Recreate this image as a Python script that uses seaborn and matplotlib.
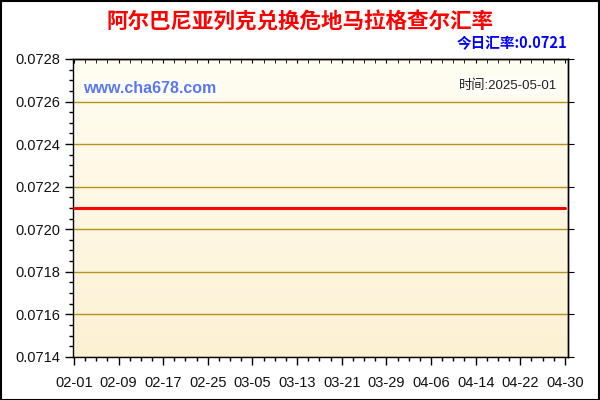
import numpy as np
import pandas as pd
import seaborn as sns
import matplotlib.pyplot as plt
import matplotlib.dates as mdates
from matplotlib.patches import Rectangle
from matplotlib.ticker import MultipleLocator

# data
dates = pd.date_range("2025-02-01", "2025-04-30", freq="D")
rates = [0.0721] * len(dates)
tick_dates = pd.date_range("2025-02-01", "2025-04-30", freq="8D")
title = "阿尔巴尼亚列克兑换危地马拉格查尔汇率"
today_rate = "今日汇率:0.0721"
stamp = "时间:2025-05-01"

df = pd.DataFrame({"date": dates, "rate": rates})

sns.set_style("white")
plt.rcParams['font.family'] = ['Liberation Sans', 'Noto Sans CJK SC', 'DejaVu Sans']

fig = plt.figure(figsize=(6, 4), dpi=100)
ax = fig.add_axes([0.121, 0.108, 0.825, 0.7445])

x0 = dates[0] - pd.Timedelta(hours=5.5)
x1 = dates[-1] + pd.Timedelta(hours=11.5)
ax.set_xlim(x0, x1)
ax.set_ylim(0.0714, 0.0728)

# background gradient
grad = np.linspace(0, 1, 256).reshape(-1, 1)
top_c = np.array([255, 254, 242]) / 255
bot_c = np.array([253, 241, 212]) / 255
img = top_c * (1 - grad[..., None]) + bot_c * grad[..., None]
ax.imshow(img, extent=[0, 1, 0, 1], transform=ax.transAxes, aspect='auto', zorder=0)

for v in np.arange(0.0714, 0.07281, 0.0002):
    ax.axhline(v, color='#b8901c', lw=1, zorder=1)

sns.lineplot(data=df, x="date", y="rate", color='#ff0000', lw=2.2, ax=ax, zorder=3)

ax.set_xticks(tick_dates)
ax.xaxis.set_major_formatter(mdates.DateFormatter('%m-%d'))
ax.xaxis.set_minor_locator(mdates.DayLocator(interval=2))
ax.yaxis.set_major_locator(MultipleLocator(0.0002))
ax.yaxis.set_minor_locator(MultipleLocator(0.00005))
ax.yaxis.set_major_formatter(plt.FuncFormatter(lambda v, p: f"{v:.4f}"))
ax.set_xlabel("")
ax.set_ylabel("")

ax.tick_params(axis='both', which='major', direction='out', length=6, width=1,
               color='black', labelsize=10.5, labelcolor='#111111', pad=3)
ax.tick_params(axis='both', which='minor', direction='out', length=3, width=1, color='black')
ax.tick_params(axis='x', which='major', pad=8)
ax.tick_params(bottom=True, left=True, which='both')

sec_x = ax.secondary_xaxis('top')
sec_x.set_xticks(tick_dates)
sec_x.xaxis.set_minor_locator(mdates.DayLocator(interval=2))
sec_x.tick_params(which='both', direction='in', length=3, labeltop=False, color='black')
sec_y = ax.secondary_yaxis('right')
sec_y.yaxis.set_major_locator(MultipleLocator(0.0002))
sec_y.yaxis.set_minor_locator(MultipleLocator(0.00005))
sec_y.tick_params(which='major', direction='out', length=4, labelright=False, color='black')
sec_y.tick_params(which='minor', direction='out', length=0, labelright=False)
for s in list(ax.spines.values()) + [sec_x.spines['top'], sec_y.spines['right']]:
    s.set_color('black')
    s.set_linewidth(1)

ax.text(0.022, 0.9, "www.cha678.com", transform=ax.transAxes, color='#5a78f0',
        fontsize=11.5, fontweight='bold', va='center', ha='left', zorder=4,
        bbox=dict(facecolor='white', edgecolor='none', alpha=0.6, pad=1.5))
ax.text(0.978, 0.91, stamp, transform=ax.transAxes, color='#222222',
        fontsize=9.5, va='center', ha='right', zorder=4,
        bbox=dict(facecolor='white', edgecolor='none', alpha=0.6, pad=1.5))

fig.text(0.5, 0.945, title, color='#ff0000', fontsize=15.5, fontweight='heavy',
         ha='center', va='center', family=['Noto Sans CJK SC', 'DejaVu Sans'])
fig.text(0.946, 0.893, today_rate, color='#0000ff', fontsize=10.5, fontweight='bold',
         ha='right', va='center', family=['Noto Sans CJK SC', 'DejaVu Sans'])

fig.patches.append(Rectangle((0.001, 0.001), 0.997, 0.997, transform=fig.transFigure,
                             fill=False, edgecolor='black', lw=1.5))

fig.savefig("out.png", dpi=100)
